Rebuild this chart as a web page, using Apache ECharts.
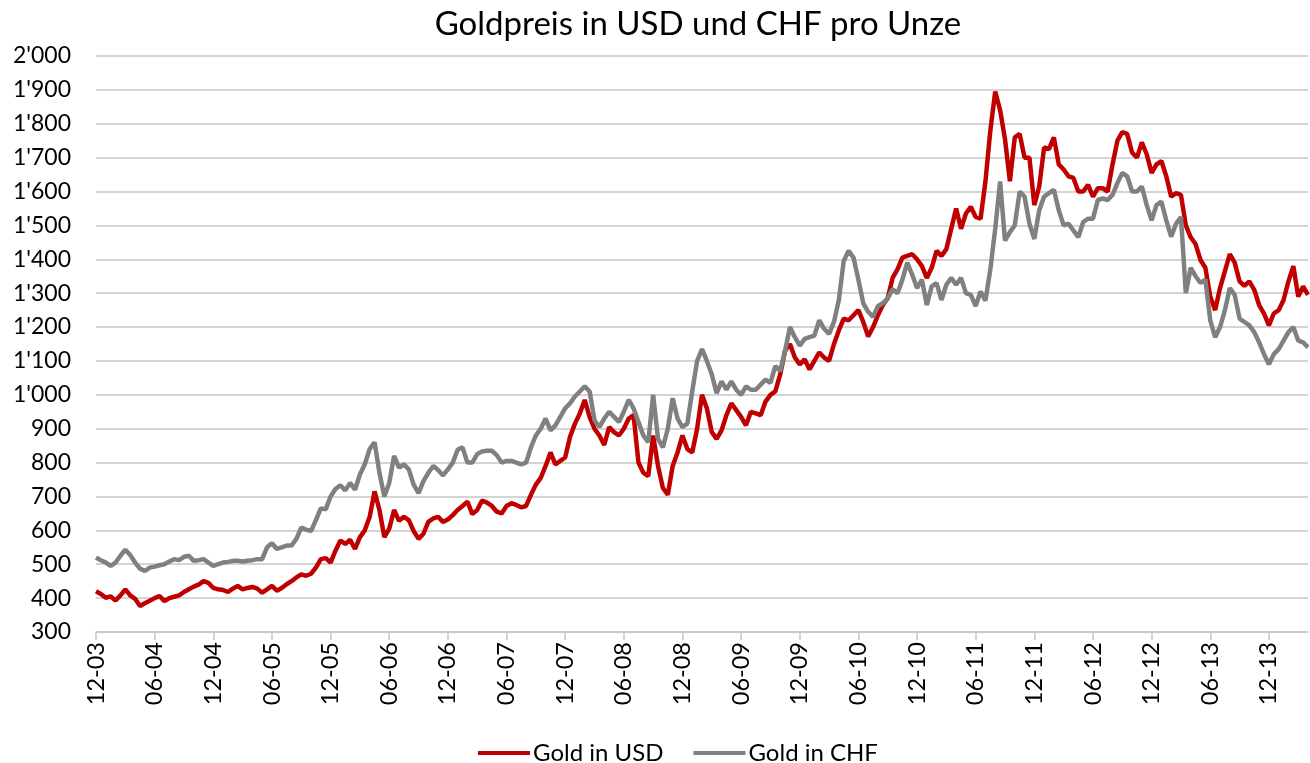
<!DOCTYPE html>
<html>
<head>
<meta charset="utf-8">
<title>Goldpreis</title>
<script src="https://cdn.jsdelivr.net/npm/echarts@6/dist/echarts.min.js"></script>
<style>
  html, body { margin: 0; padding: 0; background: #fff; }
  #chart { width: 1310px; height: 763px; }
</style>
</head>
<body>
<div id="chart"></div>
<script>
// half-monthly readings, starting Dec 2003
var startYear = 2003
var startMonth = 12
var tickLabels = ['12-03', '06-04', '12-04', '06-05', '12-05', '06-06', '12-06', '06-07', '12-07', '06-08', '12-08',
	'06-09', '12-09', '06-10', '12-10', '06-11', '12-11', '06-12', '12-12', '06-13', '12-13']
var seriesNames = ['Gold in USD', 'Gold in CHF']

var goldUsd = [
	420, 412, 401, 405, 393, 408, 426, 408, 398, 377,
	385, 392, 400, 406, 391, 400, 404, 408, 418, 426,
	434, 440, 450, 445, 430, 426, 424, 418, 428, 436,
	426, 430, 433, 428, 416, 426, 436, 422, 430, 441,
	450, 461, 470, 466, 472, 490, 515, 518, 505, 540,
	570, 560, 572, 545, 580, 600, 640, 715, 660, 580,
	605, 660, 628, 640, 630, 598, 575, 590, 625, 635,
	640, 625, 632, 645, 660, 672, 685, 648, 660, 688,
	682, 672, 655, 650, 672, 680, 675, 668, 672, 705,
	735, 755, 790, 830, 795, 805, 815, 876, 915, 945,
	985, 935, 900, 880, 852, 905, 890, 880, 900, 930,
	940, 800, 770, 760, 880, 790, 725, 705, 790, 830,
	880, 840, 830, 900, 1000, 960, 890, 870, 895, 940,
	975, 955, 935, 910, 950, 945, 940, 980, 1000, 1010,
	1060, 1130, 1150, 1110, 1090, 1105, 1075, 1100, 1125, 1110,
	1100, 1150, 1190, 1225, 1220, 1235, 1250, 1215, 1172, 1200,
	1235, 1265, 1285, 1345, 1370, 1405, 1410, 1415, 1400, 1380,
	1345, 1375, 1425, 1410, 1430, 1490, 1550, 1490, 1535, 1555,
	1525, 1520, 1630, 1780, 1895, 1840, 1755, 1630, 1760, 1770,
	1700, 1700, 1560, 1615, 1730, 1725, 1760, 1680, 1665, 1645,
	1640, 1600, 1600, 1620, 1585, 1610, 1610, 1600, 1680, 1750,
	1775, 1770, 1715, 1700, 1745, 1710, 1655, 1680, 1690, 1645,
	1585, 1595, 1590, 1500, 1465, 1445, 1398, 1375, 1290, 1250,
	1315, 1365, 1415, 1390, 1335, 1322, 1335, 1310, 1265, 1240,
	1205, 1240, 1250, 1280, 1335, 1380, 1290, 1320, 1295
]

var goldChf = [
	520, 512, 505, 495, 505, 525, 543, 527, 505, 487,
	480, 490, 493, 497, 500, 508, 515, 512, 522, 525,
	510, 512, 515, 505, 495, 500, 505, 507, 510, 510,
	508, 510, 512, 515, 515, 550, 562, 545, 550, 555,
	555, 575, 608, 602, 598, 630, 665, 662, 700, 722,
	733, 718, 740, 720, 765, 795, 840, 860, 770, 700,
	740, 820, 785, 795, 780, 735, 710, 745, 770, 790,
	778, 762, 780, 800, 838, 845, 800, 800, 825, 833,
	835, 835, 822, 800, 805, 805, 800, 795, 800, 845,
	880, 900, 930, 895, 910, 935, 960, 975, 995, 1010,
	1025, 1010, 925, 905, 930, 950, 935, 920, 950, 985,
	960, 920, 880, 860, 1000, 870, 845, 900, 990, 930,
	905, 915, 1010, 1100, 1135, 1100, 1060, 1005, 1040, 1015,
	1040, 1015, 1000, 1025, 1015, 1015, 1030, 1045, 1035, 1085,
	1070, 1130, 1200, 1170, 1145, 1165, 1170, 1175, 1220, 1195,
	1180, 1215, 1280, 1395, 1425, 1405, 1340, 1270, 1245, 1230,
	1262, 1270, 1285, 1312, 1300, 1340, 1390, 1355, 1315, 1340,
	1265, 1320, 1330, 1280, 1325, 1345, 1325, 1345, 1300, 1295,
	1262, 1305, 1278, 1370, 1490, 1630, 1455, 1480, 1500, 1600,
	1585, 1505, 1460, 1545, 1585, 1595, 1605, 1545, 1500, 1505,
	1485, 1465, 1510, 1520, 1520, 1575, 1580, 1575, 1590, 1625,
	1655, 1645, 1600, 1600, 1615, 1560, 1515, 1560, 1570, 1515,
	1467, 1505, 1525, 1300, 1375, 1350, 1330, 1340, 1220, 1170,
	1200, 1250, 1315, 1295, 1225, 1215, 1205, 1185, 1155, 1120,
	1090, 1120, 1135, 1160, 1185, 1200, 1160, 1155, 1140
]

// category per half month
var dates = []
for (var i = 0; i < goldUsd.length; i++) {
	var m = startMonth - 1 + Math.floor(i / 2)
	var y = startYear + Math.floor(m / 12)
	var mm = (m % 12) + 1
	dates.push(y + '-' + (mm < 10 ? '0' : '') + mm + '-' + (i % 2 ? '16' : '01'))
}

function isTick(index) {
	return index % 12 === 0
}

var myChart = echarts.init(document.getElementById('chart'))

var option = {
	animation: false,
	textStyle: { fontFamily: 'Lato', color: '#000' },
	title: {
		text: 'Goldpreis in USD und CHF pro Unze',
		left: 693,
		top: 3,
		textAlign: 'center',
		textStyle: { fontFamily: 'Lato', fontSize: 33, fontWeight: 'normal', color: '#000' }
	},
	legend: {
		top: 736,
		left: 473,
		icon: 'rect',
		itemWidth: 52,
		itemHeight: 4,
		itemGap: 30,
		textStyle: { fontFamily: 'Lato', fontSize: 24, color: '#000', padding: [0, 0, 0, -2] },
		data: seriesNames
	},
	grid: { left: 96, right: 2, top: 56, bottom: 131 },
	xAxis: {
		type: 'category',
		data: dates,
		boundaryGap: false,
		axisLine: { lineStyle: { color: '#c6c6c6', width: 1.5 } },
		axisTick: { interval: isTick, length: 8, lineStyle: { color: '#c6c6c6', width: 1.5 } },
		axisLabel: {
			interval: isTick,
			rotate: 90,
			margin: 10,
			fontSize: 23.5,
			fontFamily: 'Lato',
			color: '#000',
			formatter: function (value, index) {
				return tickLabels[index / 12]
			}
		},
		splitLine: { show: false }
	},
	yAxis: {
		type: 'value',
		min: 300,
		max: 2000,
		interval: 100,
		axisLine: { show: false },
		axisTick: { show: false },
		axisLabel: {
			margin: 25,
			fontSize: 23,
			fontFamily: 'Lato',
			color: '#000',
			formatter: function (v) {
				return v >= 1000 ? Math.floor(v / 1000) + "'" + String(v % 1000).padStart(3, '0') : String(v)
			}
		},
		splitLine: { lineStyle: { color: '#c6c6c6', width: 1.5 } }
	},
	series: [
		{
			name: seriesNames[0],
			type: 'line',
			data: goldUsd,
			showSymbol: false,
			color: '#c00000',
			lineStyle: { width: 4.5, color: '#c00000' }
		},
		{
			name: seriesNames[1],
			type: 'line',
			data: goldChf,
			showSymbol: false,
			color: '#808080',
			lineStyle: { width: 4.5, color: '#808080' }
		}
	]
}

myChart.setOption(option)
</script>
</body>
</html>
